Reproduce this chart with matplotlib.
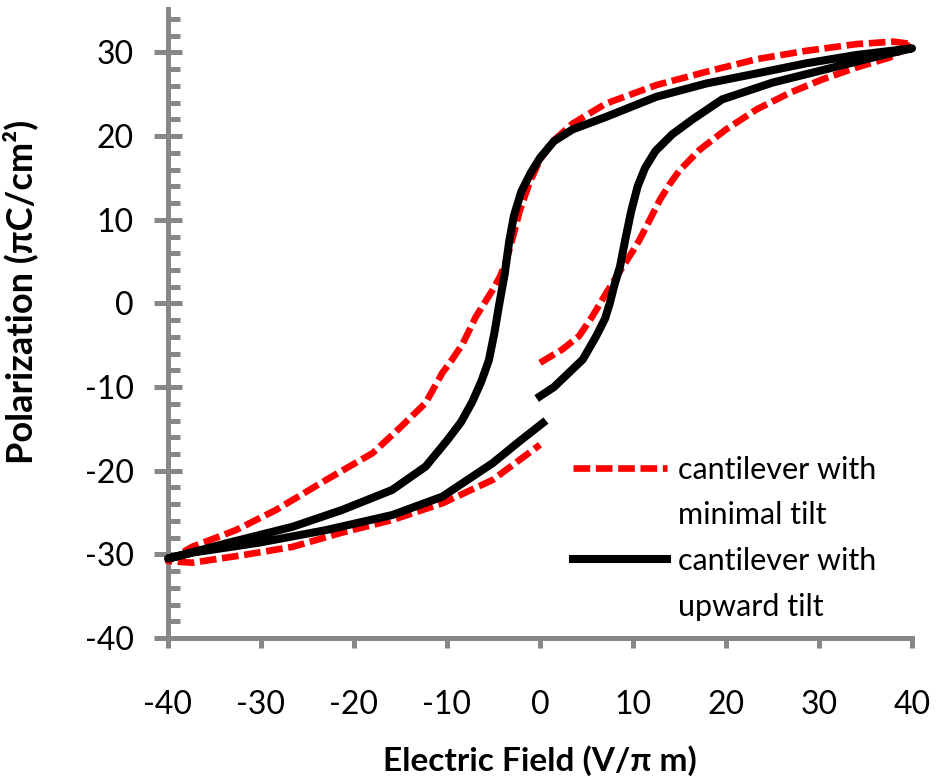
import matplotlib
matplotlib.use('Agg')
import matplotlib.pyplot as plt
from matplotlib.lines import Line2D
from matplotlib.ticker import MultipleLocator

plt.rcParams['font.family'] = ['Lato', 'DejaVu Sans']
plt.rcParams['axes.unicode_minus'] = False

# cantilever with minimal tilt (red dashed), loop starts at E=0
red_E = [0, 2.4, 4.2, 5.6, 7.1, 8.9, 10.0, 10.7, 11.8, 12.9, 13.9, 15.0, 17.2, 20.0,
         23.3, 26.9, 30.4, 34.0, 37.6, 40.0,
         38.0, 34.0, 28.6, 23.3, 17.9, 12.5, 7.1, 3.5, 1.5, 0, -1.1, -2.2, -2.9, -3.6,
         -4.3, -5.1, -6.0, -6.9, -8.3, -9.5, -10.5, -12.3, -15.0, -18.0, -23.0, -28.4,
         -32.7, -37.4, -40.0,
         -37.4, -32.0, -26.6, -21.3, -15.9, -10.5, -5.1, 0]
red_P = [-7.1, -5.5, -3.9, -1.6, 1.2, 4.4, 6.3, 7.6, 10.0, 12.4, 14.2, 15.9, 18.4, 20.8,
         23.2, 25.2, 26.8, 28.2, 29.4, 31.0,
         31.3, 31.0, 30.2, 29.2, 27.7, 26.1, 23.9, 21.5, 19.5, 17.2, 14.5, 11.0, 8.0, 5.2,
         3.2, 1.6, 0.0, -1.6, -4.8, -6.8, -8.3, -11.9, -14.8, -17.9, -21.1, -24.7,
         -27.1, -29.1, -30.8,
         -31.0, -30.1, -29.1, -27.4, -25.9, -23.9, -21.1, -16.9]

# cantilever with upward tilt (black solid)
blk_E = [0, 1.5, 3.0, 4.6, 6.0, 7.0, 7.5, 8.0, 8.6, 9.2, 9.8, 10.5, 11.3, 12.4, 14.2,
         16.4, 19.6, 25.0, 30.4, 35.8, 40.0,
         34.0, 28.6, 23.3, 17.9, 12.5, 7.1, 3.5, 1.5, 0, -1.0, -2.0, -2.8, -3.3, -3.8,
         -4.4, -4.9, -5.5, -6.3, -7.3, -8.5, -10.0, -12.3, -15.9, -21.3, -26.6, -33.8,
         -40.0,
         -37.4, -30.2, -23.0, -15.9, -10.5, -5.1, -2.0, 0.3]
blk_P = [-11.1, -10.0, -8.4, -6.7, -4.0, -1.8, 0.0, 2.2, 4.4, 7.8, 11.0, 14.0, 16.2, 18.2, 20.2,
         22.0, 24.4, 26.4, 27.9, 29.4, 30.5,
         29.7, 28.7, 27.5, 26.3, 24.7, 22.3, 20.8, 19.4, 17.4, 15.6, 13.4, 10.5, 7.5, 3.5,
         -0.2, -3.5, -6.8, -9.3, -11.8, -14.2, -16.4, -19.5, -22.3, -24.7, -26.7, -28.7,
         -30.5,
         -29.8, -28.6, -27.1, -25.3, -23.1, -19.1, -16.3, -14.3]

xticks = [-40, -30, -20, -10, 0, 10, 20, 30, 40]
yticks = [-40, -30, -20, -10, 0, 10, 20, 30]

axis_gray = '#878787'

fig = plt.figure(figsize=(9.4, 7.81), dpi=100)
ax = fig.add_axes([168 / 940, 1 - 638 / 781, 744 / 940, 629 / 781])

ax.plot(red_E, red_P, color='#ff0000', lw=4.8, dashes=(2.5, 0.85),
        solid_capstyle='butt', clip_on=False, zorder=3)
ax.plot(blk_E, blk_P, color='black', lw=5.8, clip_on=False, zorder=4)

ax.set_xlim(-40, 40)
ax.set_ylim(-40, 35.2)
ax.set_xticks(xticks)
ax.set_yticks(yticks)
ax.yaxis.set_minor_locator(MultipleLocator(2))

for s in ['top', 'right']:
    ax.spines[s].set_visible(False)
for s in ['left', 'bottom']:
    ax.spines[s].set_color(axis_gray)
    ax.spines[s].set_linewidth(3.6)

ax.tick_params(axis='y', which='major', direction='inout', length=19.5, width=3.6,
               color=axis_gray, labelsize=23, pad=15)
ax.tick_params(axis='y', which='minor', direction='in', length=8.3, width=3.6,
               color=axis_gray)
ax.tick_params(axis='x', which='major', direction='out', length=7.5, width=3.6,
               color=axis_gray, labelsize=23, pad=30)

ax.set_xlabel('Electric Field (V/\u03c0 m)', fontsize=24, fontweight='bold')
ax.set_ylabel('Polarization (\u03c0C/cm\u00b2)', fontsize=26, fontweight='bold')
ax.xaxis.set_label_coords(0.5, -0.17)
ax.yaxis.set_label_coords(-0.175, 0.55)

handles = [Line2D([], [], color='#ff0000', lw=4.8, dashes=(2.5, 0.85)),
           Line2D([], [], color='none'),
           Line2D([], [], color='black', lw=5.8),
           Line2D([], [], color='none')]
labels = ['cantilever with', 'minimal tilt', 'cantilever with', 'upward tilt']
ax.legend(handles, labels, loc='upper left', bbox_to_anchor=(0.544, 0.29),
          frameon=False, fontsize=22, handlelength=3.1, handletextpad=0.35,
          borderpad=0, borderaxespad=0, labelspacing=0.58)

fig.savefig('out.png', dpi=100)
